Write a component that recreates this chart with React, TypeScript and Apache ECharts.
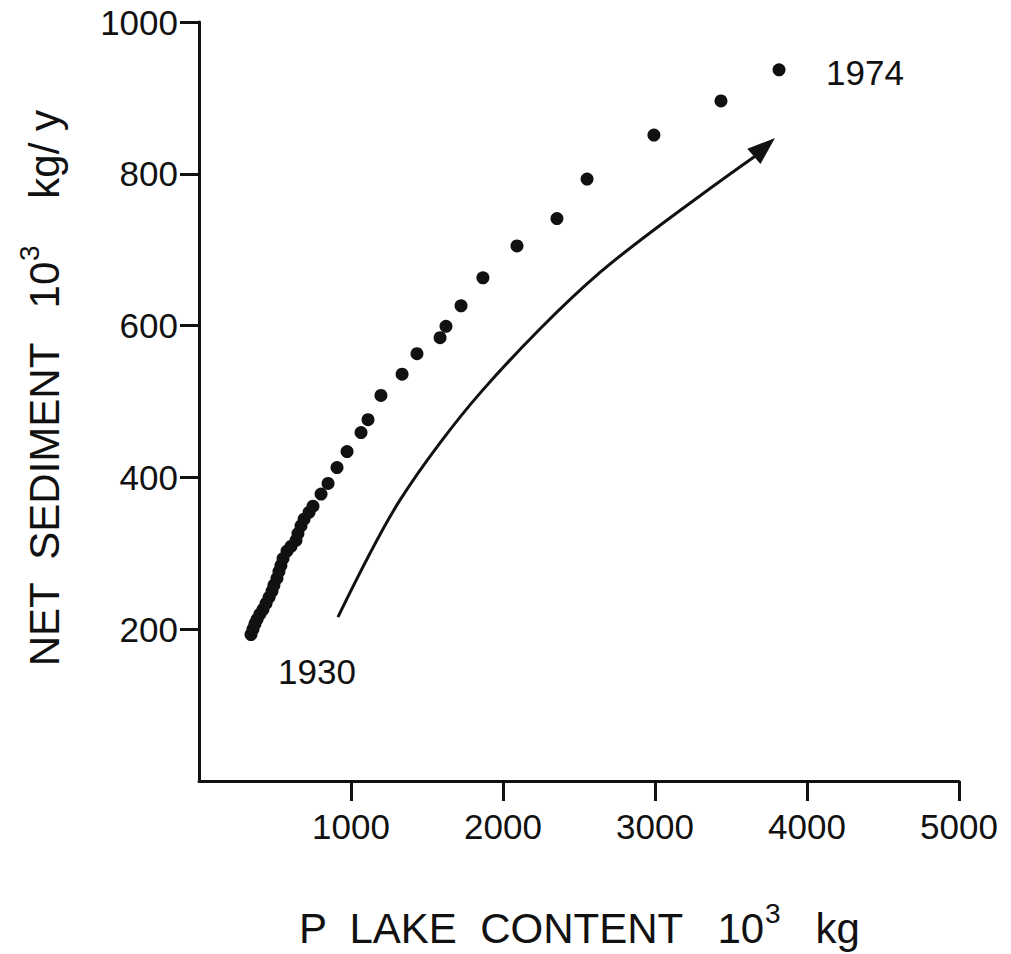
import React, { useEffect, useRef } from "react";
import * as echarts from "echarts";

// P lake content (10^3 kg) vs net sediment (10^3 kg/y), 1930 -> 1974
const pLakeContent = [
  342, 355, 368, 382, 401, 421, 441, 461, 480, 493, 513, 526, 539, 553, 579, 605,
  638, 651, 671, 691, 724, 750, 803, 849, 908, 974, 1066, 1112, 1197, 1336, 1434,
  1586, 1625, 1724, 1868, 2092, 2355, 2553, 2993, 3434, 3816,
];
const netSediment = [
  193, 200, 207, 213, 220, 226, 234, 242, 250, 258, 267, 276, 284, 293, 303, 309,
  317, 326, 336, 345, 354, 362, 378, 392, 413, 434, 459, 476, 508, 536, 563,
  584, 599, 626, 663, 705, 741, 793, 851, 896, 937,
];
const firstYear = "1930";
const lastYear = "1974";

// trend arrow (annotation) in data units
const arrowX = [914, 1322, 1862, 2638, 3658];
const arrowY = [216, 370, 514, 670, 823];
const arrowHead = [3720, 835];

const xTicks = [1000, 2000, 3000, 4000, 5000];
const yTicks = [200, 400, 600, 800, 1000];

const FONT = "'Liberation Sans', Arial, Helvetica, sans-serif";
const INK = "#111111";

export default function App() {
  const ref = useRef<HTMLDivElement>(null);
  useEffect(() => {
    if (!ref.current) return;
    const chart = echarts.init(ref.current, undefined, { renderer: "svg" });
    const n = pLakeContent.length;
    const pts = pLakeContent.map((x, i) => {
      const item: any = { value: [x, netSediment[i]] };
      if (i === 0) {
        item.label = { show: true, formatter: firstYear, position: "inside", offset: [66, 37] };
      } else if (i === n - 1) {
        item.label = { show: true, formatter: lastYear, position: "inside", offset: [86, 3] };
      }
      return item;
    });
    const titleRich = {
      t: { fontSize: 42, fontFamily: FONT, color: INK, lineHeight: 50, verticalAlign: "bottom" },
      s: { fontSize: 28, fontFamily: FONT, color: INK, lineHeight: 50, verticalAlign: "top" },
    };
    chart.setOption({
      animation: false,
      backgroundColor: "#ffffff",
      textStyle: { fontFamily: FONT },
      grid: { left: 199, right: 52, top: 22, bottom: 173, containLabel: false },
      xAxis: {
        type: "value",
        min: 0,
        max: 5000,
        interval: 1000,
        splitLine: { show: false },
        axisLine: { show: true, lineStyle: { color: INK, width: 3 } },
        axisTick: { show: true, length: 20, customValues: xTicks, lineStyle: { color: INK, width: 3 } },
        axisLabel: {
          customValues: xTicks,
          formatter: (v: number) => String(v),
          color: INK,
          fontSize: 35,
          fontFamily: FONT,
          margin: 28,
        },
        name: "{t|P  LAKE  CONTENT   10}{s|3}{t|   kg}",
        nameLocation: "middle",
        nameGap: 118,
        nameTextStyle: { rich: titleRich },
      },
      yAxis: {
        type: "value",
        min: 0,
        max: 1000,
        interval: 200,
        splitLine: { show: false },
        axisLine: { show: true, lineStyle: { color: INK, width: 3 } },
        axisTick: { show: true, length: 19, customValues: yTicks, lineStyle: { color: INK, width: 3 } },
        axisLabel: {
          customValues: yTicks,
          formatter: (v: number) => String(v),
          color: INK,
          fontSize: 35,
          fontFamily: FONT,
          margin: 21,
        },
        name: "{t|NET  SEDIMENT   10}{s|3}{t|    kg/ y}",
        nameLocation: "middle",
        nameGap: 134,
        nameTextStyle: {
          padding: [0, 0, 0, 26],
          rich: titleRich,
        },
      },
      series: [
        {
          type: "scatter",
          data: pts,
          symbol: "circle",
          symbolSize: 13,
          itemStyle: { color: INK, opacity: 1 },
          label: { color: INK, fontSize: 35, fontFamily: FONT, opacity: 1 },
          z: 3,
        },
        {
          type: "line",
          data: arrowX.map((x, i) => [x, arrowY[i]]),
          smooth: 0.3,
          showSymbol: false,
          symbol: "none",
          lineStyle: { color: INK, width: 3, opacity: 1 },
          z: 2,
        },
        {
          type: "scatter",
          data: [arrowHead],
          symbol: "triangle",
          symbolSize: [20, 28],
          symbolRotate: -49,
          itemStyle: { color: INK, opacity: 1 },
          z: 2,
        },
      ],
    });
    return () => chart.dispose();
  }, []);
  return (
    <div
      ref={ref}
      style={{ position: "fixed", left: 0, top: 0, width: 1011, height: 954, background: "#fff" }}
    />
  );
}
